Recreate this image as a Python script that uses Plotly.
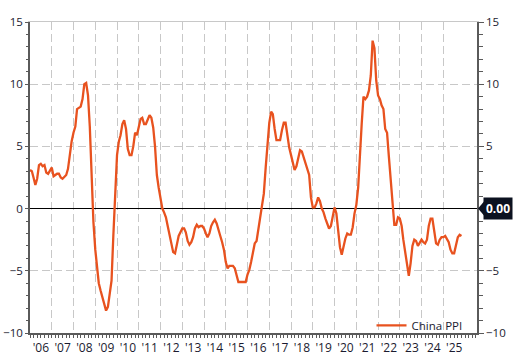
import pandas as pd
import plotly.graph_objects as go

# China PPI, % y/y, monthly Jan 2006 - Nov 2025
ppi_2006 = [3.1, 3.0, 2.5, 1.9, 2.4, 3.5, 3.6, 3.4, 3.5, 2.9, 2.8, 3.1]
ppi_2007 = [3.3, 2.6, 2.7, 2.8, 2.8, 2.5, 2.4, 2.6, 2.7, 3.2, 4.6, 5.4]
ppi_2008 = [6.1, 6.6, 8.0, 8.1, 8.2, 8.8, 10.0, 10.1, 9.1, 6.6, 2.0, -1.1]
ppi_2009 = [-3.3, -4.5, -6.0, -6.6, -7.2, -7.8, -8.2, -7.9, -7.0, -5.8, -2.1, 1.7]
ppi_2010 = [4.3, 5.4, 5.9, 6.8, 7.1, 6.4, 4.8, 4.3, 4.3, 5.0, 6.1, 5.9]
ppi_2011 = [6.6, 7.2, 7.3, 6.8, 6.8, 7.1, 7.5, 7.3, 6.5, 5.0, 2.7, 1.7]
ppi_2012 = [0.7, 0.0, -0.3, -0.7, -1.4, -2.1, -2.9, -3.5, -3.6, -2.8, -2.2, -1.9]
ppi_2013 = [-1.6, -1.6, -1.9, -2.6, -2.9, -2.7, -2.3, -1.6, -1.3, -1.5, -1.4, -1.4]
ppi_2014 = [-1.6, -2.0, -2.3, -2.0, -1.4, -1.1, -0.9, -1.2, -1.8, -2.2, -2.7, -3.3]
ppi_2015 = [-4.3, -4.8, -4.6, -4.6, -4.6, -4.8, -5.4, -5.9, -5.9, -5.9, -5.9, -5.9]
ppi_2016 = [-5.3, -4.9, -4.3, -3.4, -2.8, -2.6, -1.7, -0.8, 0.1, 1.2, 3.3, 5.5]
ppi_2017 = [6.9, 7.8, 7.6, 6.4, 5.5, 5.5, 5.5, 6.3, 6.9, 6.9, 5.8, 4.9]
ppi_2018 = [4.3, 3.7, 3.1, 3.4, 4.1, 4.7, 4.6, 4.1, 3.6, 3.3, 2.7, 0.9]
ppi_2019 = [0.1, 0.1, 0.4, 0.9, 0.6, 0.0, -0.3, -0.8, -1.2, -1.6, -1.4, -0.5]
ppi_2020 = [0.1, -0.4, -1.5, -3.1, -3.7, -3.0, -2.4, -2.0, -2.1, -2.1, -1.5, -0.4]
ppi_2021 = [0.3, 1.7, 4.4, 6.8, 9.0, 8.8, 9.0, 9.5, 10.7, 13.5, 12.9, 10.3]
ppi_2022 = [9.1, 8.8, 8.3, 8.0, 6.4, 6.1, 4.2, 2.3, 0.9, -1.3, -1.3, -0.7]
ppi_2023 = [-0.8, -1.4, -2.5, -3.6, -4.6, -5.4, -4.4, -3.0, -2.5, -2.6, -3.0, -2.7]
ppi_2024 = [-2.5, -2.7, -2.8, -2.5, -1.4, -0.8, -0.8, -1.8, -2.8, -2.9, -2.5, -2.3]
ppi_2025 = [-2.3, -2.2, -2.5, -2.7, -3.3, -3.6, -3.6, -2.9, -2.3, -2.1, -2.2]

values = (ppi_2006 + ppi_2007 + ppi_2008 + ppi_2009 + ppi_2010 + ppi_2011 + ppi_2012
          + ppi_2013 + ppi_2014 + ppi_2015 + ppi_2016 + ppi_2017 + ppi_2018 + ppi_2019
          + ppi_2020 + ppi_2021 + ppi_2022 + ppi_2023 + ppi_2024 + ppi_2025)
dates = pd.date_range("2006-01-01", periods=len(values), freq="MS")

years = list(range(2006, 2026))
year_labels = ["'" + str(y)[2:] for y in years]
label_dates = [f"{y}-07-02" for y in years]
grid_dates = [f"{y}-01-01" for y in years]

y_ticks = [-10, -5, 0, 5, 10, 15]
y_ticks_right = [-10, -5, 5, 10, 15]   # 0 is covered by the value tag

series_name = "China PPI"
current_label = "0.00"

x_range = ["2006-01-01", "2026-07-20"]
y_range = [-10, 15]

LINE = "#E8521F"
TXT = "#1b1b30"
AX = "#5a5a5a"
GRID = "#c8c8c8"
FONT = "Open Sans"

fig = go.Figure()
fig.add_trace(go.Scatter(x=dates, y=values, mode="lines", name=series_name,
                         line=dict(color=LINE, width=2.3), hoverinfo="skip"))
# helper trace for the overlay axes (year grid and right axis)
fig.add_trace(go.Scatter(x=[dates[0]], y=[0], mode="lines", xaxis="x2", yaxis="y2",
                         showlegend=False, hoverinfo="skip", opacity=0))

fig.update_layout(
    width=519, height=361,
    margin=dict(l=30, r=42, t=22, b=28, autoexpand=False),
    paper_bgcolor="white", plot_bgcolor="white",
    font=dict(family=FONT, size=11, color=TXT),
    showlegend=True,
    legend=dict(x=0.764, y=-0.022, xanchor="left", yanchor="bottom",
                bgcolor="rgba(0,0,0,0)", font=dict(size=11.5, color=TXT),
                itemwidth=30, tracegroupgap=0),
    xaxis=dict(
        type="date", range=x_range, automargin=False,
        tickmode="array", tickvals=label_dates, ticktext=year_labels,
        showgrid=False, zeroline=False,
        showline=True, linecolor=AX, linewidth=1.5,
        ticks="outside", ticklen=3, tickcolor=AX,
        minor=dict(dtick="M2", tick0="2006-01-01", ticks="outside", ticklen=3,
                   tickcolor=AX, showgrid=False),
        tickfont=dict(size=12, color=TXT),
    ),
    xaxis2=dict(
        type="date", range=x_range, overlaying="x", side="top", automargin=False,
        tickmode="array", tickvals=grid_dates, showticklabels=False, ticks="",
        showgrid=True, gridcolor=GRID, griddash="8px,4px", gridwidth=1,
        showline=True, linecolor=GRID, linewidth=1, zeroline=False,
    ),
    yaxis=dict(
        range=y_range, tickmode="array", tickvals=y_ticks, automargin=False,
        showgrid=True, gridcolor=GRID, griddash="8px,4px", gridwidth=1,
        zeroline=True, zerolinecolor="black", zerolinewidth=1.2,
        showline=True, linecolor=AX, linewidth=1.5,
        ticks="outside", ticklen=3, tickcolor=AX,
        minor=dict(dtick=1, tick0=0, ticks="outside", ticklen=2, tickcolor=AX,
                   showgrid=False),
        tickfont=dict(size=11.5, color=TXT),
    ),
    yaxis2=dict(
        range=y_range, tickmode="array", tickvals=y_ticks_right, overlaying="y",
        side="right", automargin=False,
        showgrid=False, zeroline=False,
        showline=True, linecolor=AX, linewidth=1.5,
        ticks="outside", ticklen=5, tickcolor=AX,
        minor=dict(dtick=1, tick0=0, ticks="outside", ticklen=4, tickcolor=AX,
                   showgrid=False),
        tickfont=dict(size=11.5, color=TXT),
    ),
)

# current-value tag on the right axis
px_w = 1.0 / (519 - 30 - 42)
px_h = (y_range[1] - y_range[0]) / (361 - 22 - 28)
fig.add_shape(type="path", xref="paper", yref="y",
              path=(f"M {1 + 1*px_w} 0 L {1 + 7*px_w} {7*px_h} "
                    f"L {1 + 7*px_w} {-7*px_h} Z"),
              fillcolor="#0c1220", line=dict(width=0), layer="above")
fig.add_annotation(xref="paper", yref="y", x=1, y=0, xanchor="left", yanchor="middle",
                   xshift=6, text=f"<b>{current_label}</b>", showarrow=False,
                   bgcolor="#0c1220", borderpad=2,
                   font=dict(family=FONT, size=12, color="white"))

fig.write_html("out.html", config={"displayModeBar": False},
               post_script="document.body.style.margin='0';document.body.style.overflow='hidden';")
